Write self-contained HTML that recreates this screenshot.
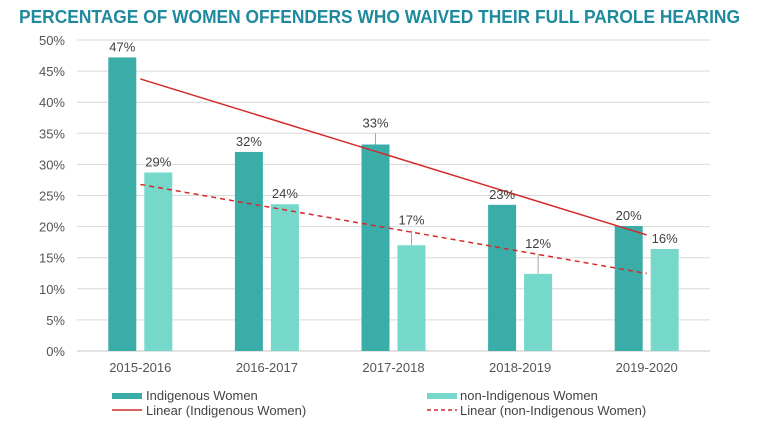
<!DOCTYPE html>
<html><head><meta charset="utf-8">
<style>
html,body{margin:0;padding:0;background:#fff;}
svg{display:block;font-family:"Liberation Sans",Arial,sans-serif;}
</style></head>
<body>
<svg id="chart" width="757" height="428" viewBox="0 0 757 428">
<text x="19" y="23" font-size="18" font-weight="bold" fill="#1f8a9e" textLength="721" lengthAdjust="spacingAndGlyphs">PERCENTAGE OF WOMEN OFFENDERS WHO WAIVED THEIR FULL PAROLE HEARING</text>
<g id="grid"></g>
<g id="bars"></g>
<g id="trends"></g>
<g id="labels"></g>
<g font-size="13" fill="#444">
  <g><rect x="112" y="393" width="30" height="6" fill="#3aada9"/><text x="146" y="400">Indigenous Women</text></g>
  <g><rect x="427" y="393" width="30" height="6" fill="#76d8cb"/><text x="460" y="400">non-Indigenous Women</text></g>
  <g><line x1="112" y1="410" x2="142" y2="410" stroke="#d42a2a" stroke-width="1.5"/><text x="146" y="415">Linear (Indigenous Women)</text></g>
  <g><line x1="427" y1="410" x2="457" y2="410" stroke="#d42a2a" stroke-width="1.5" stroke-dasharray="4,3"/><text x="460" y="415">Linear (non-Indigenous Women)</text></g>
</g>
</svg>
<script>
const categories = ["2015-2016","2016-2017","2017-2018","2018-2019","2019-2020"];
const indigenous = [47.2, 32.0, 33.2, 23.5, 20.1];
const nonIndigenous = [28.7, 23.6, 17.0, 12.4, 16.4];
const indigenousLabels = ["47%","32%","33%","23%","20%"];
const nonIndigenousLabels = ["29%","24%","17%","12%","16%"];
const yTicks = [0,5,10,15,20,25,30,35,40,45,50];
const errIndigenous = [0,0,1.8,0,0];
const errNonIndigenous = [0,0,2.4,3.2,0];

const NS="http://www.w3.org/2000/svg";
const L=77,R=710,T=40,B=351,yMax=50;
const bandW=(R-L)/categories.length;
function y(v){return B-(v/yMax)*(B-T);}
function cx(i){return L+bandW*(i+0.5);}
function mk(tag,attrs,parent){const e=document.createElementNS(NS,tag);for(const k in attrs)e.setAttribute(k,attrs[k]);parent.appendChild(e);return e;}
const grid=document.getElementById('grid'),bars=document.getElementById('bars'),trends=document.getElementById('trends'),labels=document.getElementById('labels');

yTicks.forEach(t=>{
  const ln=mk('line',{x1:L,x2:R,y1:y(t),y2:y(t),stroke:'#d9d9d9','stroke-width':t===0?1.5:1},grid);
  
  
  const tx=mk('text',{x:65,y:y(t)+5,'text-anchor':'end','font-size':13,fill:'#555'},grid);
  tx.textContent=t+'%';
  
  
});

const bw=28,gap=8;
categories.forEach((c,i)=>{
  const c0=cx(i);
  const x1=c0-gap/2-bw, x2=c0+gap/2;
  const b1=mk('rect',{x:x1,y:y(indigenous[i]),width:bw,height:B-y(indigenous[i]),fill:'#3aada9'},bars);
  
  
  const b2=mk('rect',{x:x2,y:y(nonIndigenous[i]),width:bw,height:B-y(nonIndigenous[i]),fill:'#76d8cb'},bars);
  
  
  if(errIndigenous[i]>0){const e=mk('line',{x1:x1+bw/2,x2:x1+bw/2,y1:y(indigenous[i]),y2:y(indigenous[i]+errIndigenous[i]),stroke:'#a6a6a6'},bars);}
  if(errNonIndigenous[i]>0){const e=mk('line',{x1:x2+bw/2,x2:x2+bw/2,y1:y(nonIndigenous[i]),y2:y(nonIndigenous[i]+errNonIndigenous[i]),stroke:'#a6a6a6'},bars);}
  const l1=mk('text',{x:x1+bw/2,y:y(indigenous[i]+errIndigenous[i])-6,'text-anchor':'middle','font-size':13,fill:'#404040'},labels);
  l1.textContent=indigenousLabels[i];
  
  
  const l2=mk('text',{x:x2+bw/2,y:y(nonIndigenous[i]+errNonIndigenous[i])-6,'text-anchor':'middle','font-size':13,fill:'#404040'},labels);
  l2.textContent=nonIndigenousLabels[i];
  
  
  const xl=mk('text',{x:c0,y:372,'text-anchor':'middle','font-size':13,fill:'#555'},labels);
  xl.textContent=c;
  
  
});

function fit(vals){const n=vals.length;const mx=(n-1)/2;const my=vals.reduce((a,b)=>a+b,0)/n;let sxy=0,sxx=0;vals.forEach((v,i)=>{sxy+=(i-mx)*(v-my);sxx+=(i-mx)*(i-mx);});const s=sxy/sxx;return [my-s*mx,my+s*(n-1-mx)];}
const n=categories.length;
const f1=fit(indigenous),f2=fit(nonIndigenous);
const t1=mk('line',{x1:cx(0),y1:y(f1[0]),x2:cx(n-1),y2:y(f1[1]),stroke:'#d42a2a','stroke-width':1.5},trends);


const t2=mk('line',{x1:cx(0),y1:y(f2[0]),x2:cx(n-1),y2:y(f2[1]),stroke:'#d42a2a','stroke-width':1.5,'stroke-dasharray':'5,4'},trends);


</script>
</body></html>
